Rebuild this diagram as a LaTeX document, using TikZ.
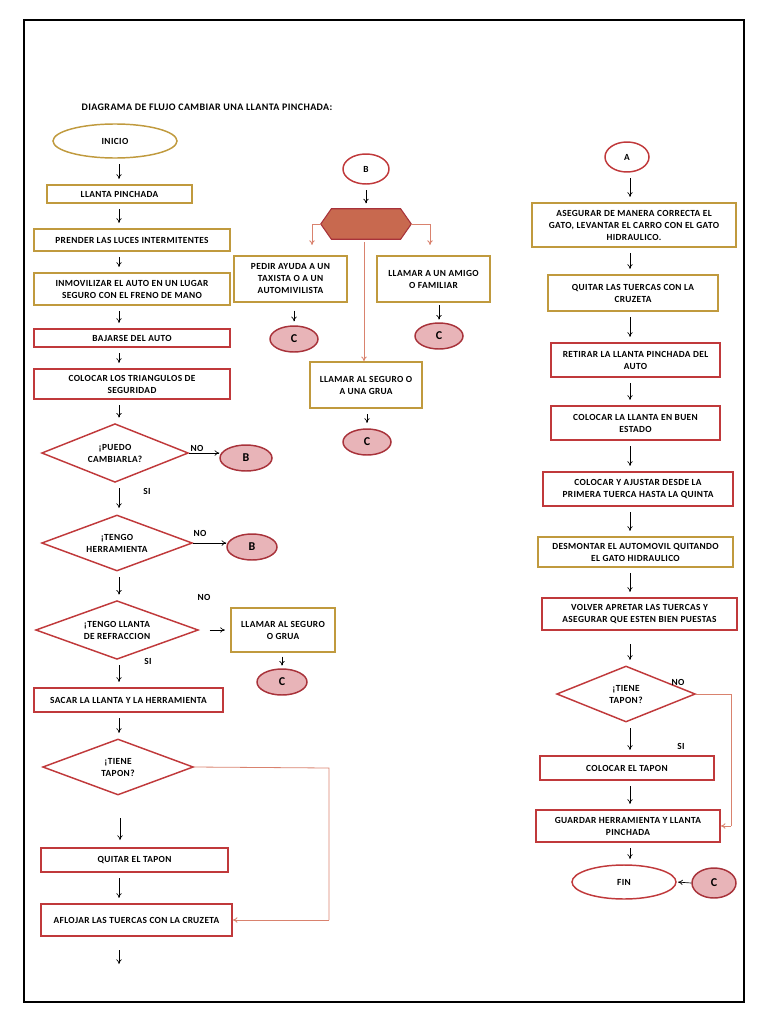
\documentclass[tikz,border=0pt]{standalone}
\usepackage{fontspec}
\setmainfont{Carlito}[LetterSpace=4]
\usetikzlibrary{shapes.geometric,arrows.meta}
\definecolor{gold}{HTML}{C09A3E}
\definecolor{rd}{HTML}{C0393B}
\definecolor{cfill}{HTML}{E8B4B8}
\definecolor{cbord}{HTML}{A8323A}
\definecolor{hex}{HTML}{C8694F}
\definecolor{salmon}{HTML}{D9826E}
\newcommand\bx[7]{\node[#6, minimum width={(#4-#2)*0.75pt}, minimum height={(#5-#3)*0.75pt}] (#1) at ({(#2+#4)/2},{(#3+#5)/2}) {#7};}
\newcommand\el[7]{\node[#6, minimum width={#4*0.75pt}, minimum height={#5*0.75pt}] (#1) at (#2,#3) {#7};}
\begin{document}
\begin{tikzpicture}[x=0.75pt,y=-0.75pt,
  every node/.style={font=\fontsize{7}{9}\selectfont\bfseries, align=center, inner sep=1pt},
  gbox/.style={draw=gold, line width=1.1pt, fill=white},
  rbox/.style={draw=rd, line width=1.1pt, fill=white},
  gell/.style={ellipse, draw=gold, line width=1.1pt},
  rell/.style={ellipse, draw=rd, line width=1.1pt},
  cc/.style={ellipse, draw=cbord, fill=cfill, line width=1.1pt, font=\fontsize{9}{10}\selectfont\bfseries},
  dia/.style={diamond, draw=rd, line width=1.1pt, aspect=2.6, inner sep=0pt},
  arr/.style={-{To[length=3.5pt,width=4pt]}, black, line width=0.5pt, shorten <=4pt, shorten >=4pt},
  sarr0/.style={-{To[length=3.5pt,width=4pt]}, black, line width=0.5pt},
  sl/.style={salmon, line width=0.6pt},
  sarr/.style={salmon, line width=0.6pt, -{To[length=3.5pt,width=4pt]}},
  lab/.style={font=\fontsize{7}{8}\selectfont\bfseries}]
\useasboundingbox (0,0) rectangle (768,1024);
\draw[line width=1pt] (24,20) rectangle (744,1002);
\node[anchor=west, font=\fontsize{7.5}{9}\selectfont\bfseries] (title) at (80,107) {DIAGRAMA DE FLUJO CAMBIAR UNA LLANTA PINCHADA:};
% left column
\coordinate (L) at (119,0);
\el{inicio}{115}{141}{124}{34}{gell}{INICIO}
\bx{b1}{47}{185}{192}{203}{gbox}{LLANTA PINCHADA}
\bx{b2}{34}{229}{230}{251}{gbox}{PRENDER LAS LUCES INTERMITENTES}
\bx{b3}{34}{273}{230}{305}{gbox}{INMOVILIZAR EL AUTO EN UN LUGAR\\SEGURO CON EL FRENO DE MANO}
\bx{b4}{34}{329}{230}{347}{rbox}{BAJARSE DEL AUTO}
\bx{b5}{34}{369}{230}{399}{rbox}{COLOCAR LOS TRIANGULOS DE\\SEGURIDAD}
\node[dia, minimum width=110pt, minimum height=44pt] (d1) at (115,453) {¡PUEDO\\CAMBIARLA?};
\el{cb1}{246}{458}{52}{26}{cc}{B}
\node[dia, minimum width=113pt, minimum height=42pt] (d2) at (117,543) {¡TENGO\\HERRAMIENTA};
\el{cb2}{252}{547}{50}{26}{cc}{B}
\node[dia, minimum width=122pt, minimum height=44pt] (d3) at (117,630) {¡TENGO LLANTA\\DE REFRACCION};
\bx{bs}{231}{608}{335}{652}{gbox}{LLAMAR AL SEGURO\\O GRUA}
\el{cs}{282}{682}{50}{26}{cc}{C}
\bx{b6}{34}{688}{223}{712}{rbox}{SACAR LA LLANTA Y LA HERRAMIENTA}
\node[dia, minimum width=113pt, minimum height=42pt] (d4) at (118,767) {¡TIENE\\TAPON?};
\bx{b7}{41}{848}{228}{872}{rbox}{QUITAR EL TAPON}
\bx{b8}{41}{904}{232}{936}{rbox}{AFLOJAR LAS TUERCAS CON LA CRUZETA}
\coordinate (end1) at (119,964);
\coordinate (a1) at (120,818);
\coordinate (a1b) at (120,840);
\coordinate (a2) at (119,488);
\coordinate (a2b) at (119,508);
\node[lab] at (197,448) {NO};
\node[lab] at (147,491) {SI};
\node[lab] at (200,533) {NO};
\node[lab] at (204,597) {NO};
\node[lab] at (148,661) {SI};
\draw[arr] (inicio.south -| L) -- (b1.north -| L);
\draw[arr] (b1.south -| L) -- (b2.north -| L);
\draw[arr] (b2.south -| L) -- (b3.north -| L);
\draw[arr] (b3.south -| L) -- (b4.north -| L);
\draw[arr] (b4.south -| L) -- (b5.north -| L);
\draw[arr] (b5.south -| L) -- (d1.north -| L);
\draw[sarr0] (d1.east) -- (d1.east -| cb1.west);
\draw[sarr0] (a2) -- (a2b);
\draw[sarr0] (d2.east) -- (d2.east -| cb2.west);
\draw[arr] (d2.south -| L) -- (d3.north -| L);
\draw[arr, shorten <=8pt] (d3.east) -- (bs.west);
\draw[arr, shorten <=3pt, shorten >=2pt] (bs.south -| cs) -- (cs.north);
\draw[arr] (d3.south -| L) -- (b6.north -| L);
\draw[arr] (b6.south -| L) -- (d4.north -| L);
\draw[sarr0] (a1) -- (a1b);
\draw[arr] (b7.south -| L) -- (b8.north -| L);
\draw[arr, shorten >=0pt, shorten <=10pt] (b8.south -| L) -- (end1);
\coordinate (t1) at (329,768);
\draw[sl] (d4.east) -- (t1) -- (t1 |- b8.east);
\draw[sarr] (t1 |- b8.east) -- (b8.east);
% middle
\el{B}{366}{169}{46}{30}{rell}{B}
\node[minimum width=67.5pt, minimum height=22.5pt, inner sep=0pt] (hx) at (366,224) {};
\draw[cbord, fill=hex, line width=0.8pt] (hx.west) -- ([xshift=8pt]hx.north west) -- ([xshift=-8pt]hx.north east) -- (hx.east) -- ([xshift=-8pt]hx.south east) -- ([xshift=8pt]hx.south west) -- cycle;
\bx{m1}{234}{256}{347}{302}{gbox}{PEDIR AYUDA A UN\\TAXISTA O A UN\\AUTOMIVILISTA}
\bx{m2}{377}{256}{490}{302}{gbox}{LLAMAR A UN AMIGO\\O FAMILIAR}
\el{c1}{294}{339}{48}{26}{cc}{C}
\el{c2}{439}{336}{48}{26}{cc}{C}
\bx{m3}{310}{362}{422}{408}{gbox}{LLAMAR AL SEGURO O\\A UNA GRUA}
\el{c3}{367}{442}{48}{26}{cc}{C}
\coordinate (hl) at (312,245);
\coordinate (hr) at (430,245);
\coordinate (hm) at (364,0);
\draw[arr] (B.south) -- (hx.north);
\draw[sl] (hx.west) -- (hx.west -| hl);
\draw[sarr] (hx.west -| hl) -- (hl);
\draw[sl] (hx.east) -- (hx.east -| hr);
\draw[sarr] (hx.east -| hr) -- (hr);
\draw[sarr, shorten <=2pt] (hx.south -| hm) -- (m3.north -| hm);
\draw[arr, shorten <=6pt, shorten >=3pt] (m1.south -| c1) -- (c1.north);
\draw[arr, shorten <=2pt, shorten >=2pt] (m2.south -| c2) -- (c2.north);
\draw[arr] (m3.south -| c3) -- (c3.north);
% right
\coordinate (R) at (630,0);
\el{A}{627}{157}{44}{30}{rell}{A}
\bx{r1}{532}{203}{736}{247}{gbox}{ASEGURAR DE MANERA CORRECTA EL\\GATO, LEVANTAR EL CARRO CON EL GATO\\HIDRAULICO.}
\bx{r2}{548}{275}{718}{311}{gbox}{QUITAR LAS TUERCAS CON LA\\CRUZETA}
\bx{r3}{551}{343}{720}{377}{rbox}{RETIRAR LA LLANTA PINCHADA DEL\\AUTO}
\bx{r4}{551}{406}{720}{440}{rbox}{COLOCAR LA LLANTA EN BUEN\\ESTADO}
\bx{r5}{543}{472}{733}{506}{rbox}{COLOCAR Y AJUSTAR DESDE LA\\PRIMERA TUERCA HASTA LA QUINTA}
\bx{r6}{538}{537}{733}{567}{gbox}{DESMONTAR EL AUTOMOVIL QUITANDO\\EL GATO HIDRAULICO}
\bx{r7}{542}{598}{737}{630}{rbox}{VOLVER APRETAR LAS TUERCAS Y\\ASEGURAR QUE ESTEN BIEN PUESTAS}
\node[dia, minimum width=104pt, minimum height=42pt] (rd1) at (626,694) {¡TIENE\\TAPON?};
\bx{r8}{540}{756}{714}{780}{rbox}{COLOCAR EL TAPON}
\bx{r9}{536}{810}{720}{842}{rbox}{GUARDAR HERRAMIENTA Y LLANTA\\PINCHADA}
\el{fin}{624}{882}{104}{34}{rell}{FIN}
\el{cf}{714}{883}{44}{30}{cc}{C}
\node[lab] at (678,682) {NO};
\node[lab] at (681,746) {SI};
\draw[arr] (A.south -| R) -- (r1.north -| R);
\draw[arr] (r1.south -| R) -- (r2.north -| R);
\draw[arr] (r2.south -| R) -- (r3.north -| R);
\draw[arr] (r3.south -| R) -- (r4.north -| R);
\draw[arr] (r4.south -| R) -- (r5.north -| R);
\draw[arr] (r5.south -| R) -- (r6.north -| R);
\draw[arr] (r6.south -| R) -- (r7.north -| R);
\draw[arr, shorten <=10pt] (r7.south -| R) -- (rd1.north -| R);
\draw[arr] (rd1.south -| R) -- (r8.north -| R);
\draw[arr] (r8.south -| R) -- (r9.north -| R);
\draw[arr] (r9.south -| R) -- (fin.north -| R);
\draw[arr, shorten <=0pt, shorten >=1pt] (cf.west) -- (fin.east);
\coordinate (t2) at (731,694);
\draw[sl] (rd1.east) -- (t2) -- (t2 |- r9.east);
\draw[sarr] (t2 |- r9.east) -- (r9.east);
\end{tikzpicture}
\end{document}
